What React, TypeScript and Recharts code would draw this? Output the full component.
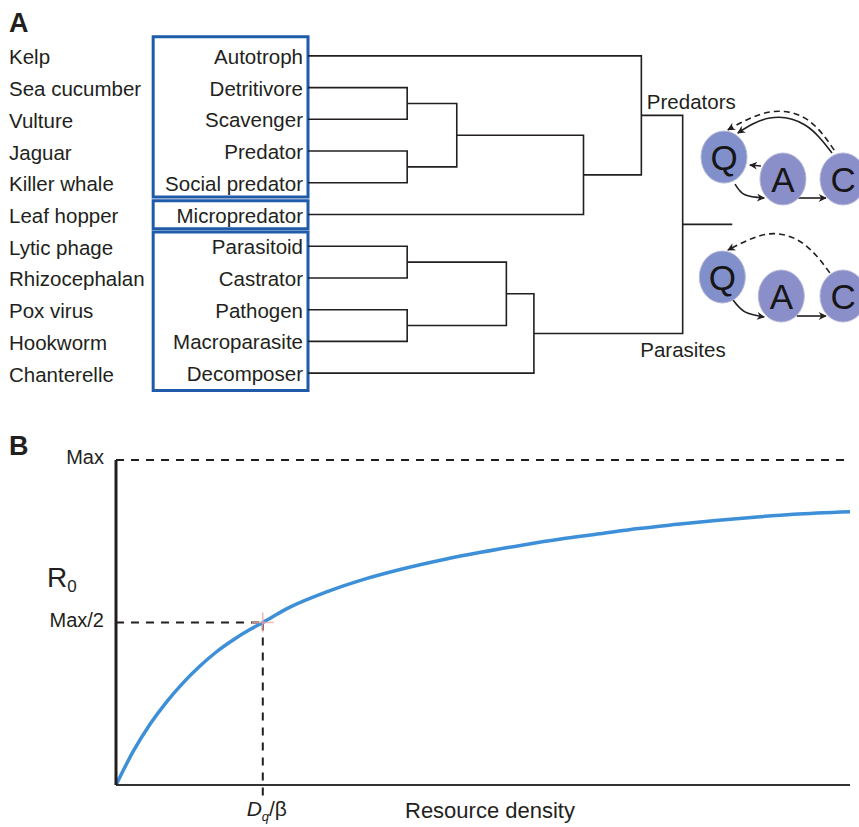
import React from 'react'
import {
  ComposedChart,
  Line,
  XAxis,
  YAxis,
  ReferenceArea,
  ReferenceDot,
  ReferenceLine,
} from 'recharts'

const INK = '#231f20'
const BOX_BLUE = '#1f5ba8'
const CURVE_BLUE = '#3d8fd8'
const FONT = '"Liberation Sans", Arial, Helvetica, sans-serif'

// ---- panel A: dendrogram of consumer strategies ----
const roles = [
  'Autotroph',
  'Detritivore',
  'Scavenger',
  'Predator',
  'Social predator',
  'Micropredator',
  'Parasitoid',
  'Castrator',
  'Pathogen',
  'Macroparasite',
  'Decomposer',
]
const species = [
  'Kelp',
  'Sea cucumber',
  'Vulture',
  'Jaguar',
  'Killer whale',
  'Leaf hopper',
  'Lytic phage',
  'Rhizocephalan',
  'Pox virus',
  'Hookworm',
  'Chanterelle',
]
// [child a, child b, join height]; ids 0-10 are leaves, 11+ are merges in this order
const merges: [number, number, number][] = [
  [1, 2, 18],
  [3, 4, 18],
  [11, 12, 27],
  [13, 5, 50],
  [0, 14, 60.5],
  [6, 7, 18],
  [8, 9, 18],
  [16, 17, 36],
  [18, 10, 41],
  [15, 19, 68],
]
const rootStub = 77
// leaf-index ranges framed by the blue boxes
const groupBoxes: [number, number][] = [
  [-0.6, 4.45],
  [4.57, 5.45],
  [5.55, 10.55],
]
const clusterLabels = [
  { text: 'Predators', x: 61.5, y: 1.67 },
  { text: 'Parasites', x: 60.3, y: 9.49 },
]

// Q-A-C interaction sketches (same coordinate frame as the dendrogram)
const qacNodes = [
  { id: 'Q', x: 75.5, y: 3.19, fill: '#8190cb' },
  { id: 'A', x: 86.2, y: 3.88, fill: '#8b8fc9' },
  { id: 'C', x: 97.1, y: 3.88, fill: '#8b8fc9' },
  { id: 'Q', x: 75.2, y: 6.97, fill: '#8190cb' },
  { id: 'A', x: 85.9, y: 7.57, fill: '#8b8fc9' },
  { id: 'C', x: 97.1, y: 7.57, fill: '#8b8fc9' },
]
const qacArrows: { pts: [number, number][]; dashed?: boolean }[] = [
  { pts: [[77.5, 4.04], [79.3, 4.38], [82.8, 4.48]] },
  { pts: [[88.9, 4.48], [94.0, 4.48]] },
  { pts: [[82.2, 3.47], [80.2, 3.44]] },
  { pts: [[95.1, 3.06], [90.2, 2.18], [83.8, 1.96], [78.0, 2.43]] },
  { pts: [[95.5, 2.97], [90.7, 2.02], [83.8, 1.77], [76.2, 2.33]], dashed: true },
  { pts: [[77.1, 7.69], [79.3, 8.07], [82.8, 8.23]] },
  { pts: [[88.7, 8.2], [94.0, 8.2]] },
  { pts: [[94.7, 6.84], [90.2, 5.96], [83.8, 5.61], [76.2, 6.12]], dashed: true },
]

// ---- panel B: R0 vs resource density ----
const density = [
  0, 2.36, 4.63, 6.9, 9.17, 11.44, 13.7, 16.0, 18.3, 20, 23.5, 28.8, 34.1, 39.4, 44.7, 49.7,
  55.3, 60.6, 65.9, 71.2, 76.5, 81.7, 87.0, 92.3, 100,
]
const r0 = [
  0, 0.104, 0.187, 0.256, 0.315, 0.366, 0.41, 0.447, 0.479, 0.5, 0.545, 0.595, 0.635, 0.667,
  0.694, 0.716, 0.738, 0.757, 0.773, 0.789, 0.802, 0.814, 0.824, 0.833, 0.841,
]
const halfSat = 20 // D_q / beta
const maxR0 = 1

// build dendrogram link polylines
const nodeY: number[] = roles.map((_, i) => i)
const nodeH: number[] = roles.map(() => 0)
const links = merges.map(([a, b, h]) => {
  const pts = [
    { x: nodeH[a], y: nodeY[a] },
    { x: h, y: nodeY[a] },
    { x: h, y: nodeY[b] },
    { x: nodeH[b], y: nodeY[b] },
  ]
  nodeY.push((nodeY[a] + nodeY[b]) / 2)
  nodeH.push(h)
  return pts
})
const rootId = nodeY.length - 1
const rootLink = [
  { x: nodeH[rootId], y: nodeY[rootId] },
  { x: rootStub, y: nodeY[rootId] },
]

const curve = density.map((x, i) => ({ x, y: r0[i] }))

function LeafTick(props: any) {
  const { x, y, payload } = props
  const i = payload.value
  return (
    <g>
      <text x={x} y={y} dy={8} textAnchor="end" fontSize={20.5} fill={INK}>
        {roles[i]}
      </text>
      <text x={9} y={y} dy={8.5} textAnchor="start" fontSize={20.5} fill={INK}>
        {species[i]}
      </text>
    </g>
  )
}

const nodeShape = (fill: string, label: string) => (p: any) => (
  <g>
    <ellipse cx={p.cx} cy={p.cy} rx={23} ry={26} fill={fill} stroke="#b7b9d8" strokeWidth={1} />
    <text x={p.cx} y={p.cy + 13} textAnchor="middle" fontSize={35} fill="#161616">
      {label}
    </text>
  </g>
)

function DqTick(props: any) {
  const { x, y } = props
  return (
    <text x={x + 4} y={y + 31} textAnchor="middle" fontSize={21} fill={INK}>
      <tspan fontStyle="italic">D</tspan>
      <tspan fontStyle="italic" fontSize={13} dy={5}>
        q
      </tspan>
      <tspan dy={-5}>/β</tspan>
    </text>
  )
}

function R0Label(props: any) {
  const vb = props.viewBox
  return (
    <text x={vb.x + 47} y={vb.y + 127} fontSize={28} fill={INK}>
      R
      <tspan fontSize={17} dy={5}>
        0
      </tspan>
    </text>
  )
}

const crossMark = (p: any) => (
  <g stroke="#f0a6a6" strokeWidth={1.5} opacity={0.8}>
    <line x1={p.cx - 11} y1={p.cy} x2={p.cx + 11} y2={p.cy} />
    <line x1={p.cx} y1={p.cy - 10} x2={p.cx} y2={p.cy + 10} />
  </g>
)

export default function App() {
  return (
    <div
      style={{
        position: 'absolute',
        left: 0,
        top: 0,
        width: 859,
        height: 827,
        background: '#fff',
        fontFamily: FONT,
        overflow: 'hidden',
      }}
    >
      <svg width={859} height={827} style={{ position: 'absolute', left: 0, top: 0 }}>
        <defs>
          <marker
            id="qacArrow"
            viewBox="0 0 10 10"
            refX="9"
            refY="5"
            markerWidth="9"
            markerHeight="8"
            markerUnits="userSpaceOnUse"
            orient="auto"
          >
            <path d="M0,0 L10,5 L0,10 L3,5 z" fill={INK} />
          </marker>
        </defs>
        <text x={9} y={32} fontSize={27} fontWeight="bold" fill={INK} fontFamily={FONT}>
          A
        </text>
        <text x={9} y={455} fontSize={27} fontWeight="bold" fill={INK} fontFamily={FONT}>
          B
        </text>
      </svg>

      <div style={{ position: 'absolute', left: 0, top: 0 }}>
        <ComposedChart width={859} height={400} margin={{ top: 40, right: 0, bottom: 11, left: 0 }}>
          <XAxis type="number" dataKey="x" domain={[0, 100]} hide allowDataOverflow />
          <YAxis
            type="number"
            dataKey="y"
            domain={[-0.5, 10.5]}
            reversed
            ticks={roles.map((_, i) => i)}
            interval={0}
            width={308}
            axisLine={false}
            tickLine={false}
            tickSize={0}
            tickMargin={5}
            tick={<LeafTick />}
            allowDataOverflow
          />
          {groupBoxes.map(([y1, y2], i) => (
            <ReferenceArea
              key={`box-${i}`}
              x1={-28.1}
              x2={0}
              y1={y1}
              y2={y2}
              fill="none"
              stroke={BOX_BLUE}
              strokeWidth={3}
              fillOpacity={0}
              ifOverflow="visible"
            />
          ))}
          {links.map((pts, i) => (
            <Line
              key={`link-${i}`}
              data={pts}
              dataKey="y"
              type="linear"
              stroke={INK}
              strokeWidth={1.6}
              dot={false}
              activeDot={false}
              isAnimationActive={false}
            />
          ))}
          <Line
            data={rootLink}
            dataKey="y"
            type="linear"
            stroke={INK}
            strokeWidth={1.6}
            dot={false}
            activeDot={false}
            isAnimationActive={false}
          />
          {qacArrows.map((a, i) => (
            <Line
              key={`arrow-${i}`}
              data={a.pts.map(([x, y]) => ({ x, y }))}
              dataKey="y"
              type={a.pts.length > 2 ? 'natural' : 'linear'}
              stroke={INK}
              strokeWidth={1.6}
              strokeDasharray={a.dashed ? '6 4' : undefined}
              markerEnd="url(#qacArrow)"
              dot={false}
              activeDot={false}
              isAnimationActive={false}
            />
          ))}
          {qacNodes.map((n, i) => (
            <ReferenceDot key={`node-${i}`} x={n.x} y={n.y} r={23} shape={nodeShape(n.fill, n.id)} />
          ))}
          {clusterLabels.map((l) => (
            <ReferenceDot
              key={l.text}
              x={l.x}
              y={l.y}
              r={0}
              shape={(p: any) => (
                <text x={p.cx} y={p.cy} fontSize={20.5} fill={INK}>
                  {l.text}
                </text>
              )}
            />
          ))}
        </ComposedChart>
      </div>

      <div style={{ position: 'absolute', left: 0, top: 400 }}>
        <ComposedChart
          width={859}
          height={427}
          data={curve}
          margin={{ top: 60, right: 9, bottom: 0, left: 0 }}
        >
          <XAxis
            type="number"
            dataKey="x"
            domain={[0, 100]}
            ticks={[halfSat]}
            height={42}
            axisLine={{ stroke: '#333', strokeWidth: 2 }}
            tickLine={false}
            tickSize={0}
            tickMargin={0}
            tick={<DqTick />}
            label={{
              value: 'Resource density',
              position: 'insideBottom',
              offset: 9,
              fill: INK,
              fontSize: 22,
              dx: 7,
            }}
          />
          <YAxis
            type="number"
            domain={[0, maxR0]}
            ticks={[maxR0 / 2, maxR0]}
            width={116}
            axisLine={{ stroke: INK, strokeWidth: 3 }}
            tickLine={false}
            tickSize={0}
            tickMargin={12}
            tick={{ fill: INK, fontSize: 20, dy: -3 }}
            tickFormatter={(v: number) => (v === maxR0 ? 'Max' : 'Max/2')}
            label={R0Label}
          />
          <ReferenceLine y={maxR0} stroke={INK} strokeWidth={2} strokeDasharray="8 7" />
          <ReferenceLine
            segment={[
              { x: 0, y: maxR0 / 2 },
              { x: halfSat, y: maxR0 / 2 },
            ]}
            stroke={INK}
            strokeWidth={2}
            strokeDasharray="8 7"
          />
          <ReferenceLine
            segment={[
              { x: halfSat, y: maxR0 / 2 },
              { x: halfSat, y: -0.045 },
            ]}
            stroke={INK}
            strokeWidth={2}
            strokeDasharray="8 7"
            ifOverflow="visible"
          />
          <Line
            dataKey="y"
            type="monotone"
            stroke={CURVE_BLUE}
            strokeWidth={3.5}
            dot={false}
            activeDot={false}
            isAnimationActive={false}
          />
          <ReferenceDot x={halfSat} y={maxR0 / 2} r={10} shape={crossMark} />
        </ComposedChart>
      </div>
    </div>
  )
}
